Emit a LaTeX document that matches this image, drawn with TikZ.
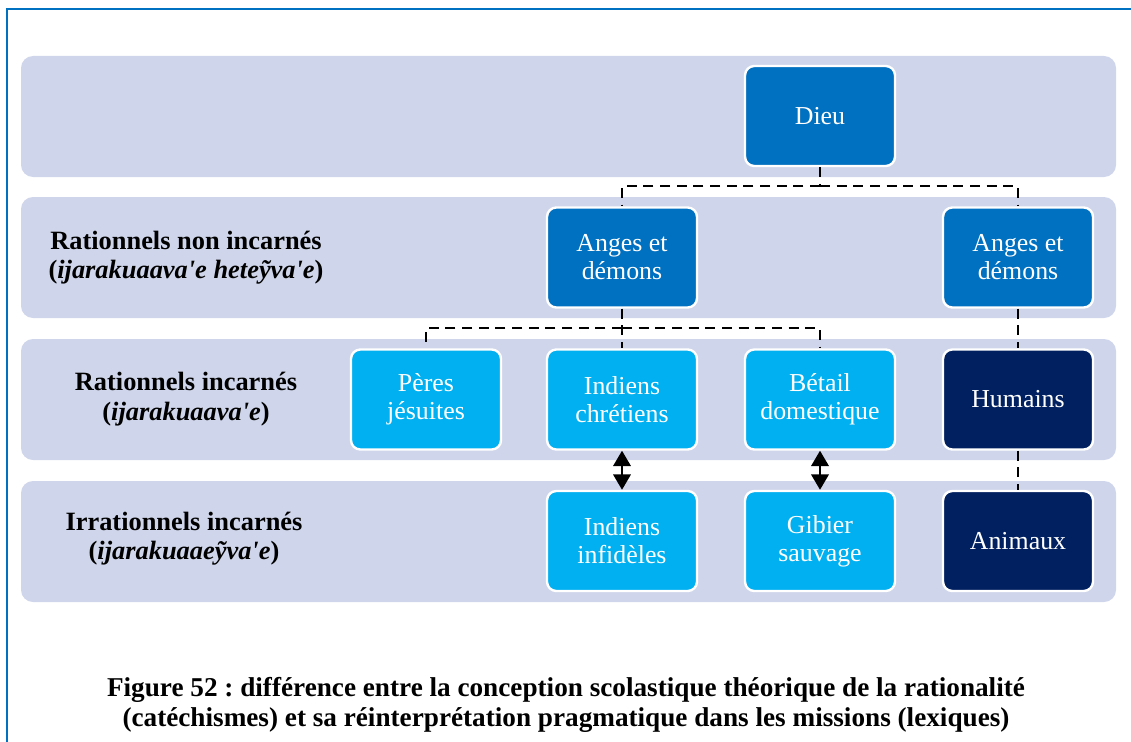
\documentclass[tikz,border=0pt]{standalone}
\usepackage{fontspec}
\setmainfont{Liberation Serif}
\usetikzlibrary{arrows.meta}
\frenchspacing
\definecolor{bandc}{HTML}{CFD5EA}
\definecolor{midblue}{HTML}{0070C0}
\definecolor{lightblue}{HTML}{00B0F0}
\definecolor{darkblue}{HTML}{002060}
\definecolor{framec}{HTML}{0070C0}
\newcommand{\ap}{\textquotesingle}
\tikzset{
  band/.style={fill=bandc, rounded corners=9pt},
  boxbase/.style={draw=white, line width=1.8pt, rounded corners=7pt, minimum width=112.5pt, minimum height=75pt, align=center, text=white, font=\fontsize{19.4}{21}\selectfont, inner sep=2pt},
  boxmid/.style={boxbase, fill=midblue},
  boxlight/.style={boxbase, fill=lightblue},
  boxdark/.style={boxbase, fill=darkblue},
  lab/.style={align=center, font=\fontsize{19.8}{22}\selectfont\bfseries},
  dashline/.style={line width=2.2pt, dash pattern=on 7.5pt off 5pt},
  dbl/.style={line width=1.8pt, {Triangle[width=13pt,length=11.5pt]}-{Triangle[width=13pt,length=11.5pt]}}
}
\begin{document}
\begin{tikzpicture}[x=0.75pt,y=-0.75pt]
\useasboundingbox (0,0) rectangle (1131,742);
% frame
\draw[framec, line width=1.8pt] (7,742) -- (7,9) -- (1131,9);
% bands
\fill[band] (21,56) rectangle (1116,177);
\fill[band] (21,197) rectangle (1116,318);
\fill[band] (21,339) rectangle (1116,460);
\fill[band] (21,481) rectangle (1116,602);
% labels
\node[lab] (l2) at (186,258) {Rationnels non incarnés\\(\textit{ijarakuaava\ap e heteỹva\ap e})};
\node[lab] (l3) at (186,399) {Rationnels incarnés\\(\textit{ijarakuaava\ap e})};
\node[lab] (l4) at (184,539) {Irrationnels incarnés\\(\textit{ijarakuaaeỹva\ap e})};
% boxes
\node[boxmid] (dieu) at (820,116) {Dieu};
\node[boxmid] (angl) at (622,257.5) {Anges et\\démons};
\node[boxmid] (angr) at (1018,257.5) {Anges et\\démons};
\node[boxlight] (peres) at (426,399.5) {Pères\\jésuites};
\node[boxlight] (indc) at (622,399.5) {Indiens\\chrétiens};
\node[boxlight] (betail) at (820,399.5) {Bétail\\domestique};
\node[boxdark] (hum) at (1018,399.5) {Humains};
\node[boxlight] (indi) at (622,541) {Indiens\\infidèles};
\node[boxlight] (gibier) at (820,541) {Gibier\\sauvage};
\node[boxdark] (anim) at (1018,541) {Animaux};
% dashed connectors
\coordinate (j1) at (820,186);
\coordinate (j2) at (622,328);
\draw[dashline] (dieu.south) -- (j1);
\draw[dashline] (j1) -| (angl.north);
\draw[dashline] (j1) -| (angr.north);
\draw[dashline] (angl.south) -- (indc.north);
\draw[dashline] (j2) -| (peres.north);
\draw[dashline] (j2) -| (betail.north);
\draw[dashline] (angr.south) -- (hum.north);
\draw[dashline] (hum.south) -- (anim.north);
% double arrows
\draw[dbl] (indc.south) -- (indi.north);
\draw[dbl] (betail.south) -- (gibier.north);
% caption
\node[align=center, font=\fontsize{20.4}{22}\selectfont\bfseries] (cap) at (566,705) {Figure 52 : différence entre la conception scolastique théorique de la rationalité\\(catéchismes) et sa réinterprétation pragmatique dans les missions (lexiques)};
\end{tikzpicture}
\end{document}
